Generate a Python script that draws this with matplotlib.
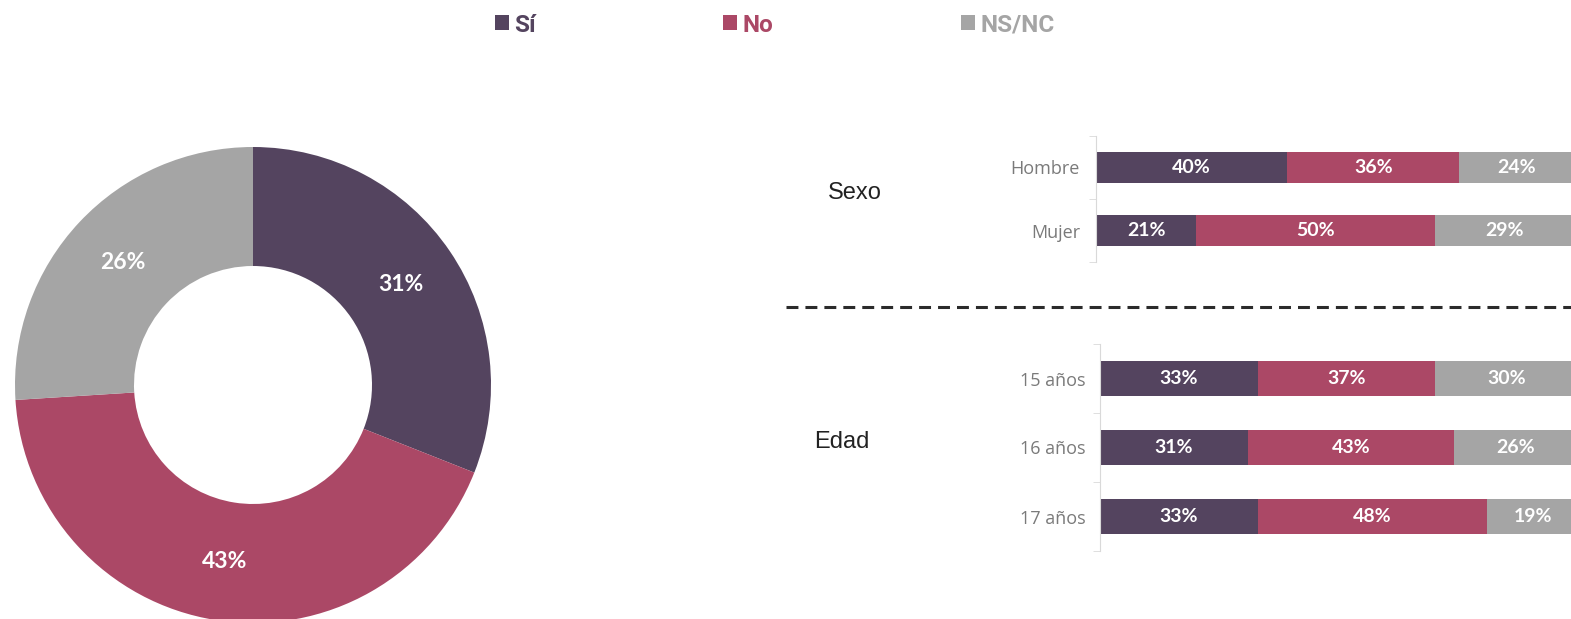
import matplotlib.pyplot as plt
from matplotlib.lines import Line2D

W, H = 1571, 619

# data
series = ['Sí', 'No', 'NS/NC']
colors = ['#54445f', '#ab4866', '#a5a5a5']
total = [31, 43, 26]

sexo_cats = ['Hombre', 'Mujer']
sexo_vals = {'Sí': [40, 21], 'No': [36, 50], 'NS/NC': [24, 29]}

edad_cats = ['15 años', '16 años', '17 años']
edad_vals = {'Sí': [33, 31, 33], 'No': [37, 43, 48], 'NS/NC': [30, 26, 19]}


def px(x, y, w, h):
    # pixel box (top-left origin) -> figure fraction
    return [x / W, 1 - (y + h) / H, w / W, h / H]


fig = plt.figure(figsize=(W / 100, H / 100), dpi=100)

# donut
ax_d = fig.add_axes(px(15, 147, 476, 476))
wedges, _, autotexts = ax_d.pie(
    total, colors=colors, startangle=90, counterclock=False,
    radius=1, wedgeprops=dict(width=0.5, edgecolor='none'),
    autopct='%d%%', pctdistance=0.75,
    textprops=dict(color='white', fontsize=16.5, fontweight='bold', family='Lato'))
ax_d.set_xlim(-1, 1)
ax_d.set_ylim(-1, 1)
ax_d.set_aspect('equal')


def stacked(ax, cats, vals, pad):
    y = list(range(len(cats)))
    left = [0] * len(cats)
    conts = []
    for s, c in zip(series, colors):
        v = vals[s]
        bc = ax.barh(y, v, left=left, height=0.5, color=c, label=s)
        conts.append(bc)
        for yi, li, vi in zip(y, left, v):
            ax.text(li + vi / 2, yi, f'{vi}%', ha='center', va='center',
                    color='white', fontsize=14, fontweight='bold', family='Lato')
        left = [a + b for a, b in zip(left, v)]
    ax.set_xlim(0, 100)
    ax.set_ylim(len(cats) - 0.5, -0.5)
    ax.set_yticks(y)
    ax.set_yticklabels(cats, family='Open Sans', fontsize=13, color='#7a7a7a')
    ax.set_yticks([i - 0.5 for i in range(len(cats) + 1)], minor=True)
    ax.tick_params(axis='y', which='major', length=0, pad=pad)
    ax.tick_params(axis='y', which='minor', length=5, color='#d9d9d9')
    ax.set_xticks([])
    for sp in ['top', 'right', 'bottom']:
        ax.spines[sp].set_visible(False)
    ax.spines['left'].set_color('#d9d9d9')
    return conts


ax_s = fig.add_axes(px(1096, 136, 478, 126))
conts = stacked(ax_s, sexo_cats, sexo_vals, 11.5)

ax_e = fig.add_axes(px(1100, 344, 478, 207))
stacked(ax_e, edad_cats, edad_vals, 10.5)

# group labels
fig.text(855 / W, 1 - 193 / H, 'Sexo', ha='center', va='center',
         fontsize=17, family='Liberation Sans', color='#222222')
fig.text(842 / W, 1 - 442 / H, 'Edad', ha='center', va='center',
         fontsize=17, family='Liberation Sans', color='#222222')

# dashed separator
fig.add_artist(Line2D([786 / W, 1], [1 - 307 / H] * 2, color='#2b2b2b', lw=2.2,
                      linestyle=(0, (3.9, 2.3))))

# legend
leg = fig.legend([c.patches[0] for c in conts], series, loc='center left',
                 bbox_to_anchor=(495 / W, 1 - 25 / H), ncol=3, frameon=False,
                 borderpad=0, borderaxespad=0, handlelength=0.58, handleheight=0.58,
                 handletextpad=0.22, columnspacing=7.7,
                 prop=dict(family='Roboto', weight='bold', size=17.5))
for t, c in zip(leg.get_texts(), colors):
    t.set_color(c)

fig.savefig('out.png', dpi=100)
